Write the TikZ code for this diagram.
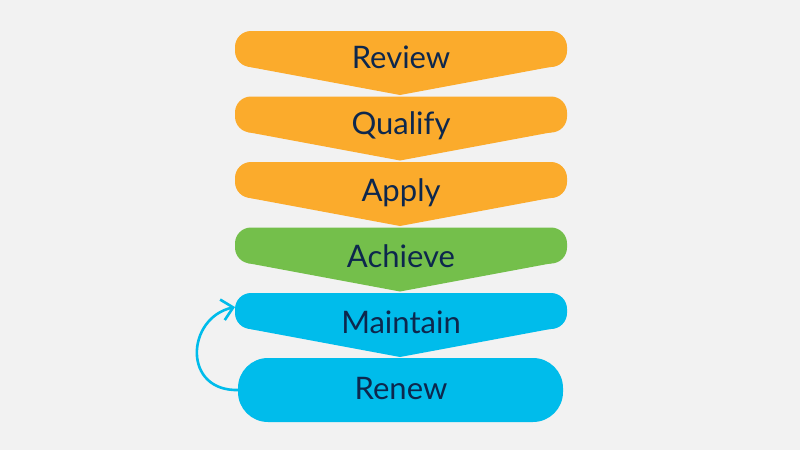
\documentclass[tikz,border=0pt]{standalone}
\usepackage{fontspec}
\setmainfont{Lato}
\usetikzlibrary{arrows.meta}
\definecolor{bg}{HTML}{F2F2F2}
\definecolor{amber}{HTML}{FBAB2C}
\definecolor{leaf}{HTML}{74BF4B}
\definecolor{sky}{HTML}{00BCEB}
\definecolor{ink}{HTML}{0D274D}
\tikzset{
  lbl/.style={text=ink, font=\fontsize{31}{34}\selectfont, inner sep=0pt, anchor=base},
  loop/.style={sky, line width=2.6pt, -{Straight Barb[length=11pt,width=21pt]}},
}
\newcommand{\chevshape}[2]{%
  \fill[#1, rounded corners=16pt] (235,#2) rectangle (567,#2+36);
  \fill[#1] (248.1,#2+35.7) -- (400,#2+64) -- (551.9,#2+35.7) -- (551.9,#2+18) -- (248.1,#2+18) -- cycle;}
\begin{document}
\begin{tikzpicture}[x=1pt,y=-1pt]
\fill[bg] (0,0) rectangle (800,450);
\useasboundingbox (0,0) rectangle (800,450);
\chevshape{amber}{31}
\chevshape{amber}{96.5}
\chevshape{amber}{162}
\chevshape{leaf}{227.5}
\chevshape{sky}{293}
\fill[sky, rounded corners=30pt] (238,358) rectangle (563,422);
\node[lbl] (review) at (401,68) {Review};
\node[lbl] (qualify) at (401,134) {Qualify};
\node[lbl] (apply) at (401,201) {Apply};
\node[lbl] (achieve) at (401,267) {Achieve};
\node[lbl] (maintain) at (401,333) {Maintain};
\node[lbl] (renew) at (401,399) {Renew};
\coordinate (loopend) at (235,307);
\coordinate (loopstart) at (239,390);
\draw[loop] (loopstart) .. controls (182,392) and (186,318) .. (loopend);
\end{tikzpicture}
\end{document}
